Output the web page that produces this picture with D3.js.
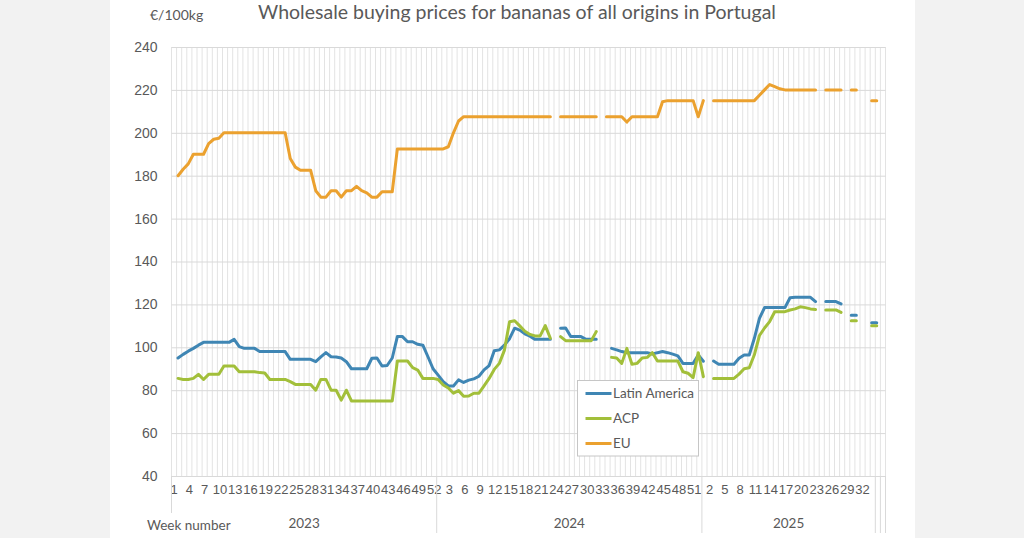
<!DOCTYPE html>
<html>
<head>
<meta charset="utf-8">
<script src="https://cdn.jsdelivr.net/npm/d3@7"></script>
<style>
  body { margin: 0; background: #f2f2f2; }
  svg { display: block; font-family: Lato, "Open Sans", sans-serif; }
</style>
</head>
<body>
<svg id="chart-svg"></svg>
<script>
const WIDTH = 1024;
const HEIGHT = 538;
const PLOT = { left: 171.5, right: 885.5, top: 47, bottom: 476 };

// Textos.
const TITLE = "Wholesale buying prices for bananas of all origins in Portugal";
const Y_UNIT = "€/100kg";
const X_TITLE = "Week number";

// Categorias: grupos de años y semanas por grupo.
const YEARS = ["2023", "2024", "2025", "", ""];
const WEEKS_IN_YEAR = [52, 52, 34, 1, 1];

const Y_TICKS = [40, 60, 80, 100, 120, 140, 160, 180, 200, 220, 240];

const SERIES_NAMES = ["Latin America", "ACP", "EU"];

// Latin America
const LA_2023 = [95, 96.7, 98.2, 99.5, 101, 102.3, 102.3, 102.3, 102.3, 102.3,
  102.3, 103.7, 100.3, 99.5, 99.5, 99.5, 98, 98, 98, 98,
  98, 98, 94.4, 94.4, 94.4, 94.4, 94.4, 93.3, 95.5, 97.5,
  95.6, 95.5, 95, 93.3, 90, 90, 90, 90, 94.9, 95,
  91.3, 91.5, 95, 105, 105, 102.6, 102.6, 101.4, 101, 95.6, 90, 87];
const LA_2024 = [84, 82, 82, 84.8, 83.6, 84.7, 85.3, 86.5, 89.5, 91.5,
  98.4, 98.8, 101, 104, 108.9, 108, 106.3, 105.2, 103.7, 103.7,
  103.7, 103.7, null, 108.9, 109, 105, 105, 105, 103.7, 103.7,
  103.7, null, null, 99.5, 98.8, 98, 97.5, 97.5, 97.5, 97.5,
  97.5, 96.9, 97.5, 98, 97.5, 96.8, 96, 92.5, 92.5, 92.5, 96.4, 93.5];
const LA_2025 = [null, 93.6, 92.1, 92.1, 92.1, 92.1, 94.9, 96.4, 96.4, 104.2,
  113.5, 118.5, 118.5, 118.5, 118.5, 118.5, 123.1, 123.3, 123.3, 123.3,
  123.3, 121.3, null, 121.3, 121.3, 121.3, 120.2, null, 115, 115,
  null, null, 111.5, 111.5];

// ACP
const ACP_2023 = [85.5, 85, 85, 85.5, 87.4, 85, 87.4, 87.4, 87.4, 91.3,
  91.3, 91.3, 88.6, 88.6, 88.6, 88.6, 88.2, 88, 85, 85,
  85, 85, 84, 82.7, 82.7, 82.7, 82.7, 80, 85, 85,
  80, 80, 75.4, 80, 75, 75, 75, 75, 75, 75,
  75, 75, 75, 93.6, 93.6, 93.6, 90.5, 89.4, 85.5, 85.5, 85.5, 85];
const ACP_2024 = [82.4, 81, 78.6, 79.8, 77.2, 77.3, 78.6, 78.6, 82, 85.5,
  89.7, 92.5, 98.7, 111.9, 112.4, 110, 107.5, 106, 105.3, 105.3,
  110.1, 104.2, null, 105, 103.1, 103, 103, 103, 103, 103,
  107.3, null, null, 95.3, 95, 92.5, 99.5, 92.1, 92.5, 95,
  95.3, 97.5, 93.6, 93.6, 93.6, 93.6, 93.6, 88.6, 87.9, 85.9, 97.5, 86.3];
const ACP_2025 = [null, 85.5, 85.5, 85.5, 85.5, 85.5, 87.5, 90, 90.5, 96.5,
  105.5, 109, 112, 116.6, 116.6, 116.6, 117.4, 117.9, 118.9, 118.5,
  117.9, 117.6, null, 117.4, 117.4, 117.4, 116.3, null, 112.4, 112.4,
  null, null, 110, 110];

// EU
const EU_2023 = [180, 183, 185.5, 190, 190, 190, 195, 197, 197.5, 200,
  200, 200, 200, 200, 200, 200, 200, 200, 200, 200,
  200, 200, 188, 184, 182.5, 182.5, 182.5, 173, 170, 170,
  173, 173, 170, 173, 173, 175, 173, 172, 170, 170,
  172.5, 172.5, 172.5, 192.5, 192.5, 192.5, 192.5, 192.5, 192.5, 192.5, 192.5, 192.5];
const EU_2024 = [192.5, 193.5, 200, 205.5, 207.5, 207.5, 207.5, 207.5, 207.5, 207.5,
  207.5, 207.5, 207.5, 207.5, 207.5, 207.5, 207.5, 207.5, 207.5, 207.5,
  207.5, 207.5, null, 207.5, 207.5, 207.5, 207.5, 207.5, 207.5, 207.5,
  207.5, null, 207.5, 207.5, 207.5, 207.5, 205, 207.5, 207.5, 207.5,
  207.5, 207.5, 207.5, 214.5, 215, 215, 215, 215, 215, 215, 207.5, 215];
const EU_2025 = [null, 215, 215, 215, 215, 215, 215, 215, 215, 215,
  217.5, 220, 222.5, 221.5, 220.5, 220, 220, 220, 220, 220,
  220, 220, null, 220, 220, 220, 220, null, 220, 220,
  null, null, 215, 215];

const BLANK = [null, null];

const COLORS = ["#3f86b4", "#a2bf3a", "#eba12f"];
const TEXT_COLOR = "#595959";

// Categorias planas.
const categorias = [];
YEARS.forEach((year, g) => {
  for (let w = 1; w <= WEEKS_IN_YEAR[g]; w++) {
    categorias.push({ group: g, label: year === "" ? "" : String(w) });
  }
});

const series = [
  [...LA_2023, ...LA_2024, ...LA_2025, ...BLANK],
  [...ACP_2023, ...ACP_2024, ...ACP_2025, ...BLANK],
  [...EU_2023, ...EU_2024, ...EU_2025, ...BLANK],
].map((vals, k) => ({ name: SERIES_NAMES[k], color: COLORS[k], values: vals }));

const svg = d3.select("svg#chart-svg")
  .attr("width", WIDTH)
  .attr("height", HEIGHT);

// Fondo blanco del grafico.
svg.append("rect")
  .attr("x", 110).attr("y", 0)
  .attr("width", 805).attr("height", HEIGHT)
  .attr("fill", "#ffffff");

const x = d3.scaleBand()
  .domain(d3.range(categorias.length))
  .range([PLOT.left, PLOT.right])
  .padding(0);

const y = d3.scaleLinear()
  .domain([40, 240])
  .range([PLOT.bottom, PLOT.top]);

// Los puntos caen algo a la derecha del centro de cada categoria.
const DATA_OFFSET = 4;
const xPoint = (i) => x(i) + x.bandwidth() / 2 + DATA_OFFSET;

// Rejilla vertical.
const grid = svg.append("g").attr("id", "grid");
grid.selectAll("line.vgrid")
  .data(d3.range(categorias.length + 1))
  .join("line")
  .attr("class", "vgrid")
  .attr("x1", (i) => (i < categorias.length ? x(i) : PLOT.right))
  .attr("x2", (i) => (i < categorias.length ? x(i) : PLOT.right))
  .attr("y1", PLOT.top)
  .attr("y2", PLOT.bottom)
  .attr("stroke", "#e3e3e3")
  .attr("stroke-width", 1);

// Eje Y con rejilla horizontal.
const yAxis = svg.append("g")
  .attr("transform", `translate(${PLOT.left}, 0)`)
  .call(d3.axisLeft(y)
    .tickValues(Y_TICKS)
    .tickSize(-(PLOT.right - PLOT.left))
    .tickPadding(14));
yAxis.select(".domain").remove();
yAxis.selectAll(".tick line").attr("stroke", "#d9d9d9");
yAxis.selectAll(".tick text")
  .attr("fill", TEXT_COLOR)
  .style("font-size", "14px");

// Eje X: semanas.
const xAxis = svg.append("g")
  .attr("transform", `translate(0, ${PLOT.bottom})`)
  .call(d3.axisBottom(x)
    .tickValues(d3.range(0, categorias.length, 3))
    .tickFormat((i) => categorias[i].label)
    .tickSize(0)
    .tickPadding(9));
xAxis.select(".domain").attr("stroke", "#d9d9d9");
xAxis.selectAll(".tick text")
  .attr("fill", TEXT_COLOR)
  .style("font-size", "13px");

// Separadores de grupos (años).
const grupos = YEARS.map((year, g) => {
  const idx = categorias.map((c, i) => (c.group === g ? i : -1)).filter((i) => i >= 0);
  return { year, start: x(idx[0]), end: x(idx[idx.length - 1]) + x.bandwidth() };
});

const separadores = [{ x: PLOT.left, y2: 513 }]
  .concat(grupos.map((g) => ({ x: g.end, y2: 533 })));

svg.append("g").selectAll("line")
  .data(separadores)
  .join("line")
  .attr("x1", (d) => d.x).attr("x2", (d) => d.x)
  .attr("y1", PLOT.bottom).attr("y2", (d) => d.y2)
  .attr("stroke", "#d9d9d9");

svg.append("g").selectAll("text")
  .data(grupos.filter((g) => g.year !== ""))
  .join("text")
  .attr("x", (d) => (d.start + d.end) / 2)
  .attr("y", 528)
  .attr("text-anchor", "middle")
  .attr("fill", TEXT_COLOR)
  .style("font-size", "13.5px")
  .text((d) => d.year);

svg.append("text")
  .attr("x", 147).attr("y", 530)
  .attr("fill", TEXT_COLOR)
  .style("font-size", "13.5px")
  .text(X_TITLE);

// Lineas.
const linea = d3.line()
  .defined((d) => d != null)
  .x((d, i) => xPoint(i))
  .y((d) => y(d));

svg.append("g").attr("id", "lines")
  .selectAll("path")
  .data(series)
  .join("path")
  .attr("d", (s) => linea(s.values))
  .attr("fill", "none")
  .attr("stroke", (s) => s.color)
  .attr("stroke-width", 3)
  .attr("stroke-linejoin", "round")
  .attr("stroke-linecap", "round");

// Titulo y unidad.
svg.append("text")
  .attr("x", 517).attr("y", 19)
  .attr("text-anchor", "middle")
  .attr("fill", TEXT_COLOR)
  .style("font-size", "19.5px")
  .text(TITLE);

svg.append("text")
  .attr("x", 150).attr("y", 20)
  .attr("fill", TEXT_COLOR)
  .style("font-size", "14px")
  .text(Y_UNIT);

// Leyenda.
const legend = svg.append("g").attr("transform", "translate(577.5, 380.5)");
legend.append("rect")
  .attr("width", 121).attr("height", 75.5)
  .attr("fill", "#ffffff")
  .attr("stroke", "#c6c6c6");

const items = legend.selectAll("g.item")
  .data(series)
  .join("g")
  .attr("class", "item")
  .attr("transform", (d, k) => `translate(0, ${13 + k * 25})`);

items.append("line")
  .attr("x1", 8).attr("x2", 34)
  .attr("stroke", (d) => d.color)
  .attr("stroke-width", 3);

items.append("text")
  .attr("x", 35.5).attr("y", 0)
  .attr("dy", "0.35em")
  .attr("fill", TEXT_COLOR)
  .style("font-size", "13.5px")
  .text((d) => d.name);
</script>
</body>
</html>
